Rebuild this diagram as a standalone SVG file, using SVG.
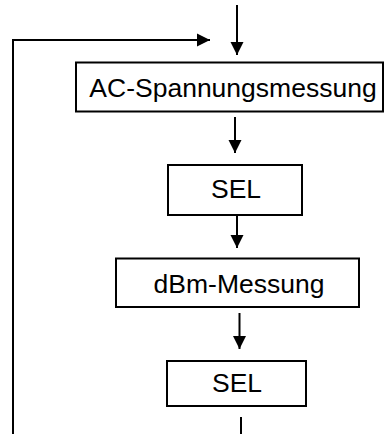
<svg xmlns="http://www.w3.org/2000/svg" width="388" height="434" viewBox="0 0 388 434">
<style>
.box{fill:#fff;stroke:#000;stroke-width:2}
.lbl{font-family:"Liberation Sans",Arial,sans-serif;font-size:26.5px;fill:#000;text-anchor:middle}
.ln{fill:none;stroke:#000;stroke-width:2}
</style>
<defs>
<marker id="ah" markerUnits="userSpaceOnUse" markerWidth="14" markerHeight="14" viewBox="0 0 14 14" refX="13" refY="7" orient="auto">
<path d="M0,0.5 L13,7 L0,13.5 Z" fill="#000"/>
</marker>
</defs>
<rect width="388" height="434" fill="#fff"/>
<g id="connectors">
<line class="ln" x1="237" y1="5" x2="237" y2="55" marker-end="url(#ah)"/>
<polyline class="ln" points="13,434 13,40 210,40" marker-end="url(#ah)"/>
<line class="ln" x1="235" y1="117" x2="235" y2="153" marker-end="url(#ah)"/>
<line class="ln" x1="237" y1="216" x2="237" y2="248" marker-end="url(#ah)"/>
<line class="ln" x1="239.5" y1="313" x2="239.5" y2="349" marker-end="url(#ah)"/>
<line class="ln" x1="241" y1="417" x2="241" y2="434"/>
</g>
<g id="n1">
<rect class="box" x="76" y="62.5" width="307" height="49"/>
<text class="lbl" x="233" y="96.5">AC-Spannungsmessung</text>
</g>
<g id="n2">
<rect class="box" x="168" y="165" width="134" height="50"/>
<text class="lbl" x="236" y="198">SEL</text>
</g>
<g id="n3">
<rect class="box" x="116" y="258.5" width="243" height="48.5"/>
<text class="lbl" x="239" y="292.5">dBm-Messung</text>
</g>
<g id="n4">
<rect class="box" x="167" y="361" width="139" height="45"/>
<text class="lbl" x="237" y="392">SEL</text>
</g>
</svg>
